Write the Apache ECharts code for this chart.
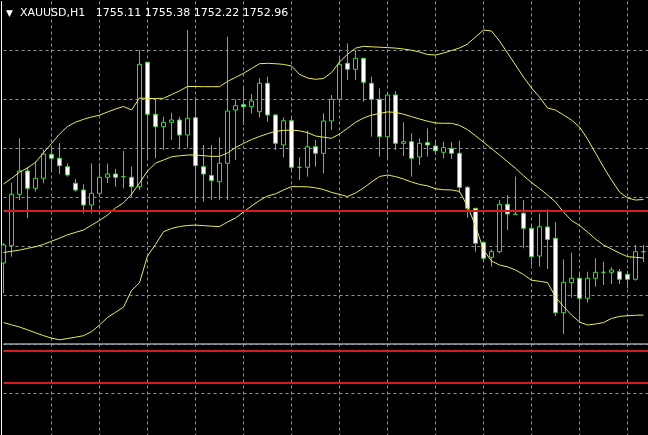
<!DOCTYPE html>
<html><head><meta charset="utf-8">
<script src="https://cdn.jsdelivr.net/npm/echarts@6/dist/echarts.min.js"></script>
<style>html,body{margin:0;padding:0;background:#000;overflow:hidden}#c{width:648px;height:435px}</style>
</head><body><div id="c"></div>
<script>
// hourly bars (last slot is the empty chart shift)
const bars = '1 2 3 4 5 6 7 8 9 10 11 12 13 14 15 16 17 18 19 20 21 22 23 24 25 26 27 28 29 30 31 32 33 34 35 36 37 38 39 40 41 42 43 44 45 46 47 48 49 50 51 52 53 54 55 56 57 58 59 60 61 62 63 64 65 66 67 68 69 70 71 72 73 74 75 76 77 78 79 80 81 82'.split(' ');
const opens = [1752.50,1754.23,1759.37,1761.70,1759.97,1760.97,1763.37,1762.97,1762.13,1760.47,
1759.80,1758.30,1759.47,1761.07,1761.40,1761.13,1761.07,1760.13,1772.57,1767.37,
1766.13,1766.57,1766.80,1765.30,1767.03,1762.13,1761.25,1760.63,1762.47,1767.80,
1768.33,1768.13,1767.63,1770.47,1767.30,1764.30,1766.73,1762.07,1762.07,1764.13,
1763.47,1766.70,1768.87,1772.47,1771.87,1772.97,1770.47,1768.87,1765.13,1769.30,
1764.47,1764.63,1763.10,1764.53,1764.20,1763.57,1763.93,1763.47,1760.07,1757.97,
1754.57,1753.07,1753.63,1758.37,1757.37,1757.47,1755.97,1753.20,1756.10,1754.97,
1747.53,1750.53,1750.97,1748.97,1750.97,1751.57,1751.57,1751.63,1751.37,1750.87,
1753.63];
const closes = [1754.30,1759.37,1761.70,1759.97,1760.97,1763.40,1762.97,1762.23,1761.30,1759.80,
1758.30,1759.47,1761.07,1761.40,1761.07,1761.13,1760.13,1772.37,1767.37,1766.13,
1766.57,1766.80,1765.30,1766.97,1762.23,1761.40,1760.75,1762.47,1767.70,1768.23,
1768.13,1768.70,1770.47,1767.30,1764.47,1766.73,1762.07,1762.07,1764.13,1763.47,
1766.70,1768.87,1772.37,1771.87,1772.97,1770.57,1768.87,1765.13,1769.30,1764.47,
1764.63,1762.97,1764.47,1764.30,1763.73,1764.03,1763.47,1760.07,1757.97,1754.47,
1752.97,1753.63,1758.37,1757.40,1757.37,1755.97,1753.13,1756.13,1754.85,1747.53,
1750.57,1750.97,1748.97,1750.97,1751.57,1751.57,1751.80,1750.87,1750.87,1753.63,
1753.63];
const lows = [1749.50,1753.13,1758.80,1756.97,1759.63,1760.47,1761.63,1761.40,1761.13,1759.63,
1757.47,1757.47,1759.13,1760.50,1760.13,1759.97,1759.13,1759.80,1762.97,1762.97,
1763.80,1764.80,1763.87,1763.97,1758.53,1758.63,1758.80,1758.80,1758.80,1762.80,
1766.30,1767.47,1767.07,1766.63,1763.80,1763.07,1761.80,1760.80,1761.13,1762.13,
1761.47,1765.80,1768.53,1770.80,1770.80,1768.63,1765.13,1763.13,1762.80,1763.80,
1763.20,1761.13,1762.30,1763.13,1763.30,1762.97,1762.90,1759.53,1757.00,1753.63,
1752.63,1752.13,1753.47,1755.80,1757.37,1753.97,1752.30,1752.13,1751.90,1747.20,
1745.40,1749.03,1746.53,1748.53,1750.13,1750.30,1750.40,1750.40,1749.97,1750.73,
1752.60];
const highs = [1754.50,1760.53,1764.97,1762.13,1762.63,1763.87,1764.13,1764.47,1762.47,1760.90,
1760.37,1762.47,1762.47,1762.45,1761.90,1763.70,1762.13,1773.80,1772.60,1768.87,
1767.13,1767.53,1767.13,1775.80,1769.07,1764.30,1764.30,1765.07,1775.13,1768.87,
1770.13,1769.40,1770.97,1771.13,1767.40,1767.07,1767.07,1763.07,1765.73,1764.80,
1767.47,1769.30,1772.97,1774.47,1773.80,1773.00,1771.13,1769.97,1769.53,1769.70,
1766.57,1765.47,1764.97,1765.97,1764.80,1764.63,1764.57,1764.73,1760.20,1757.97,
1754.63,1753.87,1758.80,1759.30,1761.15,1758.80,1756.30,1757.47,1757.87,1756.57,
1752.87,1753.53,1751.47,1751.63,1752.97,1752.63,1752.07,1751.90,1751.70,1754.30,
1754.30];
const bbUpper = [1760.39,1760.97,1761.58,1762.00,1762.57,1763.51,1764.45,1765.39,1766.15,1766.58,
1766.87,1767.10,1767.28,1767.60,1767.90,1768.15,1767.80,1769.00,1768.95,1768.95,
1768.97,1769.34,1769.71,1770.15,1770.15,1770.13,1770.13,1770.13,1770.66,1771.06,
1771.47,1771.95,1772.43,1772.47,1772.43,1772.36,1772.20,1771.36,1771.00,1770.87,
1770.95,1771.55,1772.60,1773.37,1773.98,1774.17,1774.12,1774.08,1774.04,1773.99,
1773.90,1773.78,1773.60,1773.35,1773.30,1773.50,1773.75,1774.00,1774.40,1775.10,
1775.80,1775.70,1774.70,1773.50,1772.30,1771.10,1770.00,1769.10,1768.00,1767.80,
1767.30,1766.80,1766.10,1764.90,1763.50,1762.10,1760.80,1759.60,1759.00,1758.80,
1758.85];
const bbMiddle = [1753.55,1753.67,1753.79,1753.96,1754.13,1754.36,1754.68,1754.98,1755.32,1755.56,
1755.80,1756.28,1756.75,1757.30,1758.00,1758.52,1759.37,1760.50,1761.70,1762.48,
1762.80,1763.12,1763.22,1763.30,1763.30,1763.23,1763.16,1763.17,1763.50,1764.04,
1764.46,1764.85,1765.15,1765.43,1765.66,1765.76,1765.80,1765.72,1765.54,1765.20,
1765.08,1764.97,1765.40,1765.97,1766.57,1767.00,1767.29,1767.45,1767.61,1767.56,
1767.38,1767.14,1766.90,1766.68,1766.50,1766.47,1766.47,1766.26,1765.83,1765.23,
1764.58,1763.94,1763.30,1762.63,1761.97,1761.23,1760.55,1759.95,1759.30,1758.60,
1757.60,1756.75,1756.25,1755.60,1754.90,1754.30,1753.90,1753.50,1753.13,1753.07,
1753.00];
const bbLower = [1746.54,1746.32,1746.10,1745.82,1745.52,1745.24,1744.99,1744.82,1744.95,1745.08,
1745.23,1745.63,1746.30,1747.06,1747.57,1748.09,1749.75,1750.53,1753.20,1754.35,
1755.63,1755.95,1756.15,1756.25,1756.29,1756.24,1756.18,1756.14,1756.60,1757.00,
1757.60,1758.20,1758.75,1759.20,1759.42,1759.80,1760.14,1760.13,1760.12,1760.02,
1759.85,1759.56,1759.36,1759.15,1759.50,1760.00,1760.60,1761.15,1761.30,1761.14,
1760.90,1760.60,1760.36,1760.22,1759.92,1759.83,1759.80,1759.66,1758.20,1756.20,
1753.80,1752.70,1752.30,1752.12,1751.80,1751.35,1750.78,1750.67,1750.55,1749.10,
1748.15,1747.30,1746.60,1746.30,1746.40,1746.55,1746.95,1747.16,1747.23,1747.27,
1747.30];
const redLevels = [1757.70, 1743.70, 1740.50];
const greyLevels = [1744.40];
const symbolName = 'XAUUSD,H1';
const lastQuote = ['1755.11', '1755.38', '1752.22', '1752.96'];

const candles = opens.map((o, i) => [o, closes[i], lows[i], highs[i]]);
const chart = echarts.init(document.getElementById('c'), null, {renderer: 'canvas'});
const gridLine = {color: '#8f949a', type: [3, 3], width: 1};
const band = (name, data) => ({
  name, type: 'line', data, symbol: 'none', silent: true, clip: false, z: 4,
  lineStyle: {color: '#ecec50', width: 1}
});
chart.setOption({
  backgroundColor: '#000',
  animation: false,
  title: {
    text: '{t|▼}  ' + symbolName + '   ' + lastQuote.join(' '),
    left: 6, top: 8, padding: 0,
    textStyle: {color: '#fff', fontFamily: 'DejaVu Sans', fontSize: 11, fontWeight: 'normal',
      rich: {t: {fontSize: 9, color: '#fff', fontFamily: 'DejaVu Sans'}}}
  },
  grid: {left: 3.5, top: 1.5, width: 648, height: 440.5, containLabel: false, outerBoundsMode: 'none'},
  xAxis: {
    type: 'category', data: bars, boundaryGap: false,
    axisLine: {show: false}, axisTick: {show: false}, axisLabel: {show: false},
    splitLine: {show: true, interval: (i) => i > 0 && i % 6 === 0, lineStyle: gridLine}
  },
  yAxis: {
    type: 'value', min: 1734.6, max: 1778.65, interval: 4.9, position: 'left', offset: 2,
    axisLine: {show: true, onZero: false, lineStyle: {color: '#ffffff', width: 1}},
    axisTick: {show: false}, axisLabel: {show: false},
    splitLine: {show: true, showMinLine: false, showMaxLine: false, lineStyle: gridLine}
  },
  series: [
    {
      type: 'candlestick', data: candles, barWidth: 4, clip: false, z: 3, silent: true,
      itemStyle: {color: '#000000', color0: '#ffffff', borderColor: '#33dd33', borderColor0: '#33dd33', borderWidth: 1}
    },
    band('upper', bbUpper),
    band('middle', bbMiddle),
    Object.assign(band('lower', bbLower), {
      markLine: {
        silent: true, symbol: ['none', 'none'], label: {show: false}, animation: false,
        data: redLevels.map(v => ({yAxis: v, lineStyle: {color: '#d41c1c', width: 2, type: 'solid'}}))
          .concat(greyLevels.map(v => ({yAxis: v, lineStyle: {color: '#9aa3ad', width: 1.5, type: 'solid'}})))
      }
    })
  ]
});
</script></body></html>
